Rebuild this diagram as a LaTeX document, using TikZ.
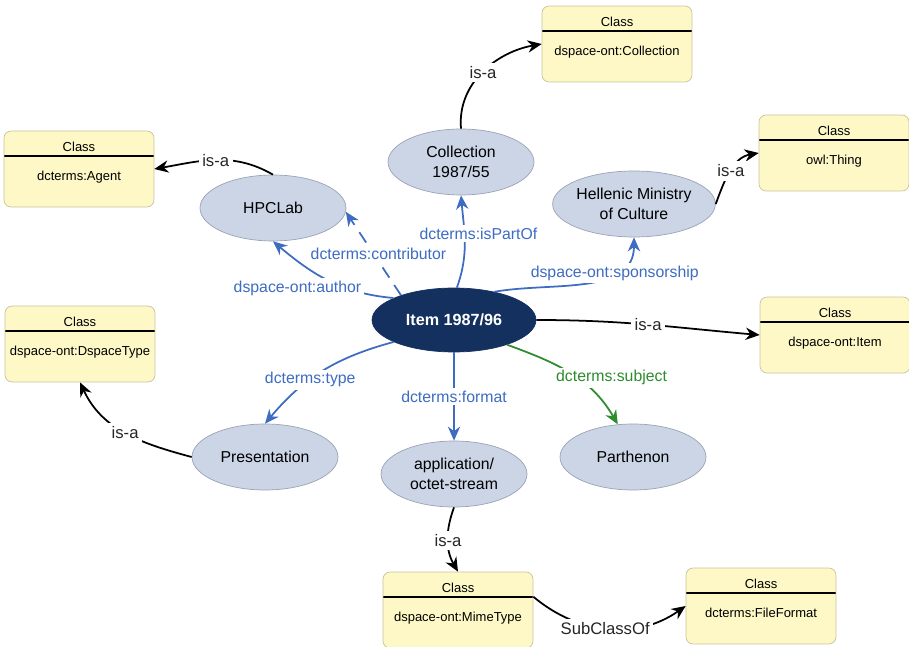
\documentclass[tikz,border=0pt]{standalone}
\usepackage{fontspec}
\setmainfont{Liberation Sans}
\usetikzlibrary{shapes.geometric,arrows.meta}
\definecolor{boxfill}{HTML}{FDF8C6}
\definecolor{boxline}{HTML}{C9C39A}
\definecolor{ellfill}{HTML}{CBD5E6}
\definecolor{ellline}{HTML}{9AA3B5}
\definecolor{itemblue}{HTML}{14305F}
\definecolor{relblue}{HTML}{3D6CC1}
\definecolor{relgreen}{HTML}{2E8B2E}
\tikzstyle{classbox}=[rectangle,rounded corners=4pt,draw=boxline,fill=boxfill,minimum width=3cm,minimum height=1.52cm,inner sep=0pt,font=\fontsize{7.4}{9}\selectfont,text height=15pt,text depth=1.6pt,
  path picture={\node[font=\fontsize{7.4}{9}\selectfont,text height=5.4pt,text depth=1.4pt,inner sep=0pt] (hd) at ([yshift=-0.33cm]path picture bounding box.north) {Class};
    \draw[black,line width=1.1pt] ([yshift=-0.5cm]path picture bounding box.north west) -- ([yshift=-0.5cm]path picture bounding box.north east);}]
\tikzstyle{resource}=[ellipse,draw=ellline,fill=ellfill,minimum width=2.92cm,minimum height=1.32cm,inner sep=0pt,align=center,font=\fontsize{9}{11}\selectfont]
\tikzstyle{mainres}=[ellipse,draw=itemblue,fill=itemblue,text=white,minimum width=3.28cm,minimum height=1.28cm,inner sep=0pt,font=\fontsize{9.2}{11}\selectfont\bfseries]
\tikzstyle{isa}=[black,line width=1pt,-{Stealth[length=8pt,width=7pt]}]
\tikzstyle{rel}=[relblue,line width=1pt,-{Stealth[length=8pt,width=7pt]}]
\tikzstyle{isalbl}=[fill=white,inner sep=2pt,font=\fontsize{9.5}{11}\selectfont,text=black!85]
\tikzstyle{rellbl}=[fill=white,inner sep=1.5pt,font=\fontsize{9}{11}\selectfont,text=relblue]

\begin{document}
\begin{tikzpicture}[x=0.02cm,y=0.02cm]
    \useasboundingbox (0,0) rectangle (909,646);
    % classes
    \node[classbox] (agent) at (79,477)  {dcterms:Agent};
    \node[classbox] (collc) at (617,602) {dspace-ont:Collection};
    \node[classbox] (thing) at (834,493) {owl:Thing};
    \node[classbox] (dspt)  at (80,302)  {dspace-ont:DspaceType};
    \node[classbox] (itemc) at (835,311) {dspace-ont:Item};
    \node[classbox] (mime)  at (458,36)  {dspace-ont:MimeType};
    \node[classbox] (filef) at (761,40)  {dcterms:FileFormat};
    % resources
    \node[mainres] (item) at (454,326) {Item 1987/96};
    \node[resource] (hpc)   at (273,438) {HPCLab};
    \node[resource] (coll)  at (461,484) {Collection\\1987/55};
    \node[resource] (hell)  at (634,442) {Hellenic Ministry\\of Culture};
    \node[resource] (pres)  at (265,189) {Presentation};
    \node[resource] (octet) at (454,172) {application/\\octet-stream};
    \node[resource] (parth) at (633,189) {Parthenon};

    % properties of the item
    \draw[rel] (item.160) to[out=175,in=-40] node[rellbl,pos=0.45,xshift=-0.74cm,yshift=-0.1cm] (lauth) {dspace-ont:author} (hpc.south);
    \draw[rel,dashed,dash pattern=on 7pt off 5pt] (item.155) -- node[rellbl,xshift=0.1cm] (lcontr) {dcterms:contributor} (hpc.-3);
    \draw[rel] (item.85) to[out=70,in=-85] node[rellbl,pos=0.6,xshift=0.28cm] (lpart) {dcterms:isPartOf} (coll.south);
    \draw[rel] (item.35) to[out=10,in=-90] node[rellbl,pos=0.7] (lspon) {dspace-ont:sponsorship} (hell.south);
    \draw[rel] (item.200) to[out=195,in=50] node[rellbl,pos=0.6] (ltype) {dcterms:type} (pres.north);
    \draw[rel] (item.south) -- node[rellbl] (lform) {dcterms:format} (octet.north);
    \draw[rel,relgreen] (item.-25) to[out=-20,in=120] node[rellbl,text=relgreen,pos=0.55,xshift=0.7cm] (lsubj) {dcterms:subject} (parth.115);

    \foreach \from/\to/\o/\i in {item.east/itemc.west/0/175,hpc.north/agent.east/150/10,coll.north/collc.west/95/190,
      hell.east/thing.west/70/190,pres.west/dspt.south/165/-65,octet.south/mime.north/-110/120}
    \draw[isa] (\from) to[out=\o,in=\i] node[isalbl] {is-a} (\to);
    \draw[isa] (mime.10) to[out=-40,in=-145] node[isalbl,pos=0.48] (lsub) {SubClassOf} (filef.west);
\end{tikzpicture}
\end{document}
